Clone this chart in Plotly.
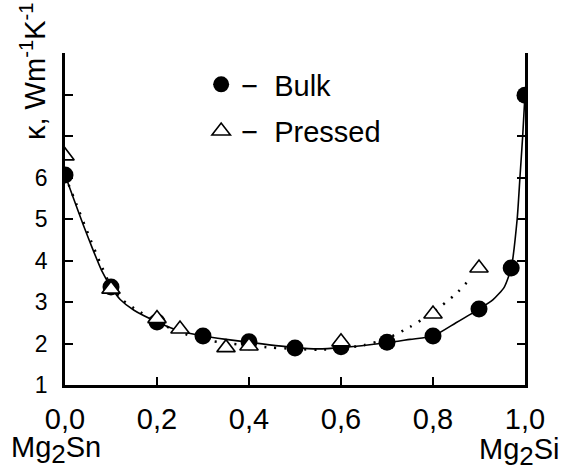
import plotly.graph_objects as go

# Measured points
bulk_x = [0.0, 0.1, 0.2, 0.3, 0.4, 0.5, 0.6, 0.7, 0.8, 0.9, 0.97, 1.0]
bulk_y = [6.06, 3.36, 2.52, 2.18, 2.04, 1.89, 1.92, 2.03, 2.18, 2.83, 3.82, 7.98]

pressed_x = [0.0, 0.1, 0.2, 0.25, 0.35, 0.4, 0.6, 0.8, 0.9]
pressed_y = [6.52, 3.31, 2.6, 2.35, 1.9, 1.94, 2.04, 2.71, 3.82]

# Fit curves
bulk_fit_x = [0.0, 0.02, 0.04, 0.06, 0.08, 0.1, 0.12, 0.15, 0.2, 0.25, 0.3, 0.35, 0.4, 0.5,
              0.55, 0.6, 0.7, 0.75, 0.8, 0.85, 0.9, 0.93, 0.955, 0.97, 0.983, 0.989, 0.995, 1.0]
bulk_fit_y = [6.06, 5.45, 4.85, 4.28, 3.75, 3.36, 3.06, 2.8, 2.52, 2.3, 2.18, 2.1, 2.03, 1.9,
              1.87, 1.9, 2.02, 2.1, 2.18, 2.5, 2.83, 3.05, 3.36, 3.82, 5.0, 6.0, 7.0, 8.0]

pressed_fit_x = [0.0, 0.025, 0.05, 0.075, 0.1, 0.125, 0.15, 0.2, 0.25, 0.3, 0.35, 0.4, 0.45,
                 0.5, 0.55, 0.6, 0.65, 0.7, 0.75, 0.8, 0.85, 0.88]
pressed_fit_y = [6.05, 5.35, 4.65, 3.98, 3.38, 3.05, 2.85, 2.52, 2.27, 2.1, 2.01, 1.95, 1.9,
                 1.87, 1.85, 1.88, 1.96, 2.12, 2.4, 2.75, 3.2, 3.55]

x_tickvals = [0.0, 0.2, 0.4, 0.6, 0.8, 1.0]
x_ticktext = ["0,0", "0,2", "0,4", "0,6", "0,8", "1,0"]
y_tickvals = [1, 2, 3, 4, 5, 6]
y_ticktext = ["1", "2", "3", "4", "5", "6"]
y_minor_ticks = [7, 8, 9]

FONT = "Liberation Sans, Arial, sans-serif"

fig = go.Figure()
fig.add_trace(go.Scatter(x=bulk_fit_x, y=bulk_fit_y, mode="lines",
                         line=dict(color="black", width=1.6, shape="spline", smoothing=0.6),
                         showlegend=False, hoverinfo="skip"))
fig.add_trace(go.Scatter(x=pressed_fit_x, y=pressed_fit_y, mode="lines",
                         line=dict(color="black", width=2.5, dash="2px,8px", shape="spline", smoothing=0.6),
                         showlegend=False, hoverinfo="skip"))
fig.add_trace(go.Scatter(x=bulk_x, y=bulk_y, mode="markers", name="−\u00a0\u00a0Bulk", legendgroup="a",
                         marker=dict(symbol="circle", size=17, color="black")))
fig.add_trace(go.Scatter(x=pressed_x, y=pressed_y, mode="markers", name="−\u00a0\u00a0Pressed", legendgroup="b",
                         marker=dict(symbol="triangle-up", size=16, color="white",
                                     line=dict(color="black", width=1.6))))

fig.update_layout(
    width=569, height=472,
    margin=dict(l=65, r=44, t=53, b=87),
    paper_bgcolor="white", plot_bgcolor="white",
    font=dict(family=FONT, color="black"),
    showlegend=True,
    legend=dict(x=0.296, y=0.982, xanchor="left", yanchor="top",
                font=dict(size=29, family=FONT, color="black"),
                bgcolor="rgba(0,0,0,0)", tracegroupgap=6, traceorder="grouped"),
    xaxis=dict(range=[0, 1], tickvals=x_tickvals, ticktext=x_ticktext,
               showline=True, linecolor="black", linewidth=2.5, mirror=False,
               ticks="inside", ticklen=8, tickwidth=2, tickcolor="black",
               showgrid=False, zeroline=False, ticklabelstandoff=6,
               tickfont=dict(size=29, family=FONT, color="black")),
    yaxis=dict(range=[1, 9], tickvals=y_tickvals, ticktext=y_ticktext,
               showline=True, linecolor="black", linewidth=2.5, mirror="allticks",
               ticks="inside", ticklen=8, tickwidth=2, tickcolor="black",
               minor=dict(tickvals=y_minor_ticks, ticks="inside", ticklen=8,
                          tickwidth=2, tickcolor="black"),
               showgrid=False, zeroline=False, ticklabelstandoff=10,
               tickfont=dict(size=23, family=FONT, color="black")),
)

fig.add_annotation(text="κ, Wm<sup>-1</sup>K<sup>-1</sup>", textangle=-90,
                   xref="paper", yref="paper", x=(33 - 65) / 460, y=(385 - 71) / 332,
                   xanchor="center", yanchor="middle", showarrow=False,
                   font=dict(size=29, family=FONT, color="black"))
fig.add_annotation(text="Mg<sub><span style='font-size:26px'>2</span></sub>Sn",
                   xref="paper", yref="paper",
                   x=(56 - 65) / 460, y=(385 - 450) / 332, xanchor="center", yanchor="middle",
                   showarrow=False, font=dict(size=29, family=FONT, color="black"))
fig.add_annotation(text="Mg<sub><span style='font-size:26px'>2</span></sub>Si",
                   xref="paper", yref="paper",
                   x=(519 - 65) / 460, y=(385 - 452) / 332, xanchor="center", yanchor="middle",
                   showarrow=False, font=dict(size=29, family=FONT, color="black"))

fig.write_html("out.html")
